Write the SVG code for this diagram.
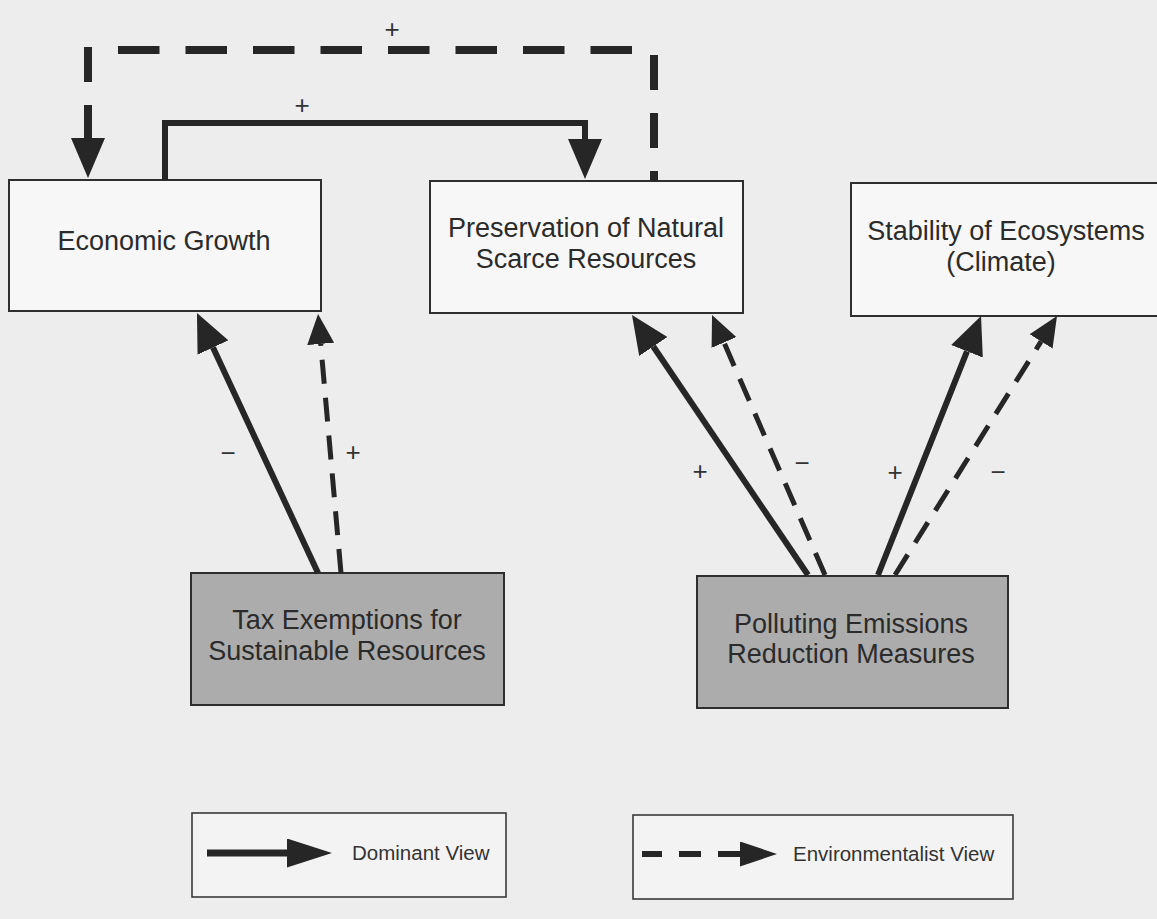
<svg xmlns="http://www.w3.org/2000/svg" width="1157" height="919" viewBox="0 0 1157 919">
  <style>
    .box { fill: #f7f7f7; stroke: #2e2e2e; stroke-width: 2; }
    .gbox { fill: #acacac; stroke: #2e2e2e; stroke-width: 2; }
    .lbox { fill: #f3f3f3; stroke: #3a3a3a; stroke-width: 1.6; }
    .t { font-family: "Liberation Sans", Arial, sans-serif; font-size: 27px; fill: #2b2b2b; text-anchor: middle; }
    .lt { font-family: "Liberation Sans", Arial, sans-serif; font-size: 20.5px; fill: #333; }
    .sign { font-family: "Liberation Sans", Arial, sans-serif; font-size: 26px; fill: #333; text-anchor: middle; }
    .solid { fill: none; stroke: #262626; stroke-width: 6; stroke-linejoin: miter; }
    .dash { fill: none; stroke: #262626; stroke-width: 5; stroke-dasharray: 24 14; }
    .dashT { fill: none; stroke: #262626; stroke-width: 8; }
  </style>
  <defs>
    <marker id="hs" markerUnits="userSpaceOnUse" viewBox="0 0 40 34" refX="0" refY="17" markerWidth="40" markerHeight="34" orient="auto">
      <path d="M0,0 L40,17 L0,34 Z" fill="#262626"/>
    </marker>
    <marker id="hsd" markerUnits="userSpaceOnUse" viewBox="0 0 38 34" refX="0" refY="17" markerWidth="38" markerHeight="34" orient="auto">
      <path d="M0,0 L38,17 L0,34 Z" fill="#262626"/>
    </marker>
    <marker id="hd" markerUnits="userSpaceOnUse" viewBox="0 0 30 27" refX="0" refY="13.5" markerWidth="30" markerHeight="27" orient="auto">
      <path d="M0,0 L30,13.5 L0,27 Z" fill="#262626"/>
    </marker>
    <marker id="hl" markerUnits="userSpaceOnUse" viewBox="0 0 45 29" refX="0" refY="14.5" markerWidth="45" markerHeight="29" orient="auto">
      <path d="M0,0 L45,14.5 L0,29 Z" fill="#262626"/>
    </marker>
    <marker id="hld" markerUnits="userSpaceOnUse" viewBox="0 0 37 25" refX="0" refY="12.5" markerWidth="37" markerHeight="25" orient="auto">
      <path d="M0,0 L37,12.5 L0,25 Z" fill="#262626"/>
    </marker>
  </defs>

  <rect x="0" y="0" width="1157" height="919" fill="#ededed"/>

  <g id="node-economic-growth">
    <rect class="box" x="9" y="180" width="312" height="131"/>
    <text class="t" x="164" y="250">Economic Growth</text>
  </g>
  <g id="node-preservation">
    <rect class="box" x="430" y="181" width="313" height="132"/>
    <text class="t" x="586" y="237">Preservation of Natural</text>
    <text class="t" x="586" y="268">Scarce Resources</text>
  </g>
  <g id="node-stability">
    <rect class="box" x="851" y="183" width="320" height="133"/>
    <text class="t" x="1006" y="240">Stability of Ecosystems</text>
    <text class="t" x="1001" y="271">(Climate)</text>
  </g>
  <g id="node-tax">
    <rect class="gbox" x="191" y="573" width="313" height="132"/>
    <text class="t" x="347" y="629">Tax Exemptions for</text>
    <text class="t" x="347" y="660">Sustainable Resources</text>
  </g>
  <g id="node-polluting">
    <rect class="gbox" x="697" y="576" width="311" height="132"/>
    <text class="t" x="851" y="633">Polluting Emissions</text>
    <text class="t" x="851" y="663">Reduction Measures</text>
  </g>

  <g id="connectors">
    <!-- environmentalist loop: Preservation -> Economic Growth -->
    <path class="dashT" d="M654 55 V181" stroke-dasharray="35 23"/>
    <path class="dashT" d="M632 50 H118" stroke-dasharray="41.5 26"/>
    <path class="dashT" d="M88 47 V138" stroke-dasharray="35 23" marker-end="url(#hs)"/>
    <text class="sign" x="392" y="38">+</text>
    <!-- dominant loop: Economic Growth -> Preservation -->
    <path class="solid" d="M165 180 V123 H585 V139" marker-end="url(#hs)"/>
    <text class="sign" x="302" y="114">+</text>

    <!-- Tax exemptions -->
    <path class="solid" d="M318 573 L213 347.5" marker-end="url(#hsd)"/>
    <path class="dash" d="M341 573 L320.7 343.9" marker-end="url(#hd)"/>
    <text class="sign" x="228" y="462">−</text>
    <text class="sign" x="353" y="461">+</text>

    <!-- Polluting emissions -->
    <path class="solid" d="M808 575 L653.3 346.5" marker-end="url(#hsd)"/>
    <path class="dash" d="M825 575 L724 342.5" marker-end="url(#hd)"/>
    <path class="solid" d="M878 575 L967 351.3" marker-end="url(#hsd)"/>
    <path class="dash" d="M895 575 L1041.1 341.4" marker-end="url(#hd)"/>
    <text class="sign" x="700" y="480">+</text>
    <text class="sign" x="802" y="472">−</text>
    <text class="sign" x="895" y="481">+</text>
    <text class="sign" x="998" y="481">−</text>
  </g>

  <g id="legend-dominant">
    <rect class="lbox" x="192" y="813" width="314" height="84"/>
    <path d="M207 853 H287" fill="none" stroke="#262626" stroke-width="7" marker-end="url(#hl)"/>
    <text class="lt" x="352" y="860">Dominant View</text>
  </g>
  <g id="legend-environmentalist">
    <rect class="lbox" x="633" y="815" width="380" height="84"/>
    <path d="M642 854 H740" fill="none" stroke="#262626" stroke-width="6" stroke-dasharray="22 17" stroke-dashoffset="2" marker-end="url(#hld)"/>
    <text class="lt" x="793" y="861">Environmentalist View</text>
  </g>
</svg>
